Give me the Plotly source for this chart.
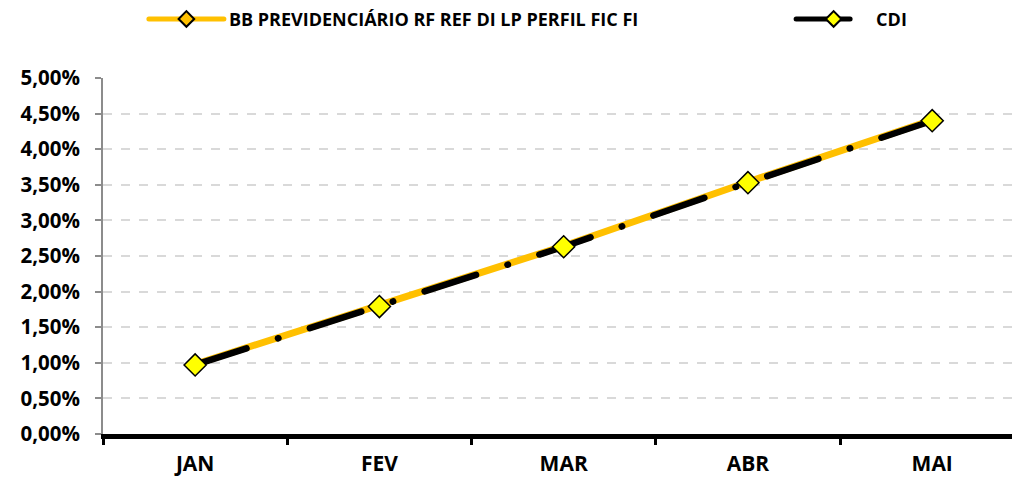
import plotly.graph_objects as go

months = ["JAN", "FEV", "MAR", "ABR", "MAI"]
bb_values = [0.0098, 0.0180, 0.0264, 0.0354, 0.0441]
cdi_values = [0.0097, 0.0179, 0.0263, 0.0353, 0.0440]
y_ticks = [0, 0.005, 0.01, 0.015, 0.02, 0.025, 0.03, 0.035, 0.04, 0.045, 0.05]
y_tick_labels = ["0,00%", "0,50%", "1,00%", "1,50%", "2,00%", "2,50%", "3,00%", "3,50%", "4,00%", "4,50%", "5,00%"]

FONT = "Open Sans"

fig = go.Figure()
fig.add_trace(go.Scatter(
    x=months, y=bb_values, name="BB PREVIDENCIÁRIO RF REF DI LP PERFIL FIC FI",
    mode="lines+markers", legend="legend",
    line=dict(color="#FFC000", width=7),
    marker=dict(symbol="diamond", size=8, color="#FFC000", line=dict(color="black", width=1.5)),
))
fig.add_trace(go.Scatter(
    x=months, y=cdi_values, name="CDI",
    mode="lines+markers", legend="legend2",
    line=dict(color="black", width=6.5, dash="54px,33px,0.5px,33px"),
    marker=dict(symbol="diamond", size=17, color="#FFFF00", line=dict(color="black", width=1.5)),
))

legend_common = dict(
    orientation="h", yanchor="middle", xanchor="left",
    font=dict(family=FONT, size=18, color="black", weight="bold"),
    itemwidth=75, itemsizing="constant",
    bgcolor="rgba(0,0,0,0)",
)

fig.update_layout(
    width=1012, height=479,
    margin=dict(l=103, r=0, t=78, b=45, autoexpand=False),
    paper_bgcolor="white", plot_bgcolor="white",
    font=dict(family=FONT, size=19, color="black", weight="bold"),
    showlegend=True,
    legend=dict(legend_common, x=0.045, y=1.165),
    legend2=dict(legend_common, x=0.757, y=1.165),
    xaxis=dict(
        type="category", range=[-0.5, 4.433],
        showline=True, linecolor="black", linewidth=5,
        ticks="outside", tickson="boundaries", ticklen=6, tickwidth=3, tickcolor="black",
        showgrid=False, tickfont=dict(family=FONT, size=21, weight="bold"),
        ticklabelstandoff=7,
        fixedrange=True,
    ),
    yaxis=dict(
        range=[0, 0.05], tickvals=y_ticks, ticktext=y_tick_labels,
        showline=True, linecolor="#8C8C8C", linewidth=2,
        ticks="outside", ticklen=6, tickwidth=2, tickcolor="#8C8C8C",
        showgrid=True, gridcolor="#D9D9D9", gridwidth=2, griddash="dash",
        zeroline=False, tickfont=dict(family=FONT, size=20.5, weight="bold"),
        ticklabelstandoff=11,
    ),
)

post = (
    "document.body.style.margin='0';document.body.style.overflow='hidden';"
    "document.querySelectorAll('path.js-line').forEach(function(p){p.style.strokeLinecap='round';});"
)
fig.write_html("out.html", post_script=post, config={"displayModeBar": False})
